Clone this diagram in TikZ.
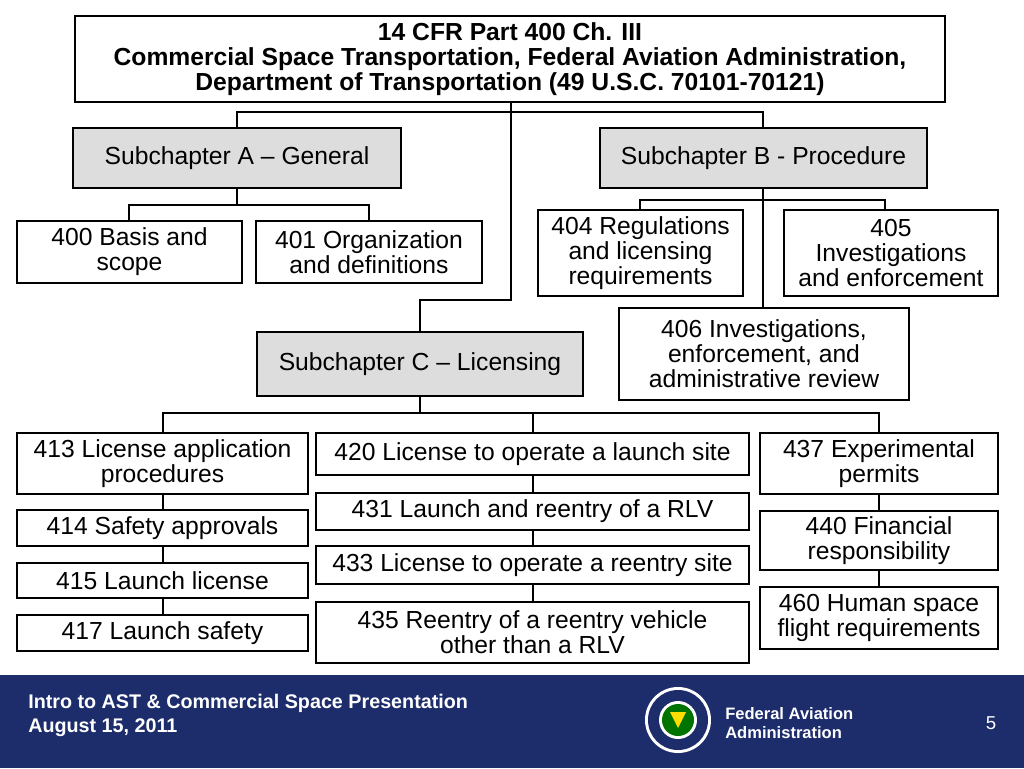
\documentclass[tikz,border=0pt]{standalone}
\usepackage{fontspec}
\setmainfont{Liberation Sans}
\definecolor{navy}{HTML}{1D2C6B}
\definecolor{boxgray}{HTML}{DDDDDD}
\begin{document}
\begin{tikzpicture}[x=0.75pt,y=-0.75pt,
  bx/.style={draw,line width=1.6pt,fill=white,align=center,font=\fontsize{18.5}{18.75}\selectfont,inner sep=0pt},
  gx/.style={bx,fill=boxgray},
  ln/.style={line width=1.6pt}]
\useasboundingbox (0,0) rectangle (1024,768);
% connectors
\draw[ln] (511,102) -- (511,300) -- (420,300) -- (420,332);
\draw[ln] (237,128) -- (237,112) -- (763,112) -- (763,128);
\draw[ln] (237,188) -- (237,205);
\draw[ln] (129,221) -- (129,205) -- (369,205) -- (369,221);
\draw[ln] (763,188) -- (763,308);
\draw[ln] (640,210) -- (640,200) -- (885,200) -- (885,210);
\draw[ln] (420,396) -- (420,413);
\draw[ln] (163,433) -- (163,413) -- (879,413) -- (879,433);
\draw[ln] (533,413) -- (533,433);
\draw[ln] (163,494) -- (163,615);
\draw[ln] (533,475) -- (533,602);
\draw[ln] (879,494) -- (879,587);
% boxes
\node[bx,minimum width=870*0.75pt,minimum height=86*0.75pt,font=\bfseries\fontsize{18.5}{18.75}\selectfont] (top) at (510,59) {14 CFR Part 400 Ch. III\\Commercial Space Transportation, Federal Aviation Administration,\\Department of Transportation (49 U.S.C. 70101-70121)};
\node[gx,minimum width=328*0.75pt,minimum height=60*0.75pt] (sa) at (237,158) {Subchapter A – General};
\node[gx,minimum width=327*0.75pt,minimum height=60*0.75pt] (sb) at (763.5,158) {Subchapter B - Procedure};
\node[bx,minimum width=225*0.75pt,minimum height=62*0.75pt] (n400) at (129.5,252) {400 Basis and\\scope};
\node[bx,minimum width=226*0.75pt,minimum height=62*0.75pt] (n401) at (369,252) {401 Organization\\and definitions};
\node[bx,minimum width=205*0.75pt,minimum height=86*0.75pt] (n404) at (640.5,253) {404 Regulations\\and licensing\\requirements};
\node[bx,minimum width=214*0.75pt,minimum height=86*0.75pt] (n405) at (891,253) {405\\Investigations\\and enforcement};
\node[bx,minimum width=290*0.75pt,minimum height=92*0.75pt] (n406) at (764,354) {406 Investigations,\\enforcement, and\\administrative review};
\node[gx,minimum width=326*0.75pt,minimum height=64*0.75pt] (sc) at (420,364) {Subchapter C – Licensing};
\node[bx,minimum width=291*0.75pt,minimum height=61*0.75pt] (n413) at (162.5,463.5) {413 License application\\procedures};
\node[bx,minimum width=291*0.75pt,minimum height=36*0.75pt] (n414) at (162.5,528) {414 Safety approvals};
\node[bx,minimum width=291*0.75pt,minimum height=35*0.75pt] (n415) at (162.5,580.5) {415 Launch license};
\node[bx,minimum width=291*0.75pt,minimum height=36*0.75pt] (n417) at (162.5,633) {417 Launch safety};
\node[bx,minimum width=433*0.75pt,minimum height=42*0.75pt] (n420) at (532.5,454) {420 License to operate a launch site};
\node[bx,minimum width=433*0.75pt,minimum height=37*0.75pt] (n431) at (532.5,511.5) {431 Launch and reentry of a RLV};
\node[bx,minimum width=433*0.75pt,minimum height=38*0.75pt] (n433) at (532.5,565) {433 License to operate a reentry site};
\node[bx,minimum width=433*0.75pt,minimum height=61*0.75pt] (n435) at (532.5,632.5) {435 Reentry of a reentry vehicle\\other than a RLV};
\node[bx,minimum width=238*0.75pt,minimum height=61*0.75pt] (n437) at (879,463.5) {437 Experimental\\permits};
\node[bx,minimum width=238*0.75pt,minimum height=59*0.75pt] (n440) at (879,540.5) {440 Financial\\responsibility};
\node[bx,minimum width=238*0.75pt,minimum height=62*0.75pt] (n460) at (879,618) {460 Human space\\flight requirements};
% footer
\fill[navy] (0,675) rectangle (1024,768);
\node[anchor=west,text=white,font=\bfseries\fontsize{14.8}{18}\selectfont,align=left,inner sep=0pt] (ft) at (28,715) {Intro to AST \& Commercial Space Presentation\\August 15, 2011};
\node[anchor=west,text=white,font=\bfseries\fontsize{12.4}{14.5}\selectfont,align=left,inner sep=0pt] (faa) at (725,723) {Federal Aviation\\Administration};
\node[text=white,font=\fontsize{14}{16}\selectfont] (pg) at (991,723) {5};
% logo
\fill[white] (678,720) circle (33);
\fill[navy] (678,720) circle (30);
\fill[white] (678,720) circle (19);
\fill[green!45!black] (678,720) circle (16);
\fill[yellow!80!orange] (670,712) -- (686,712) -- (678,728) -- cycle;
\end{tikzpicture}
\end{document}
